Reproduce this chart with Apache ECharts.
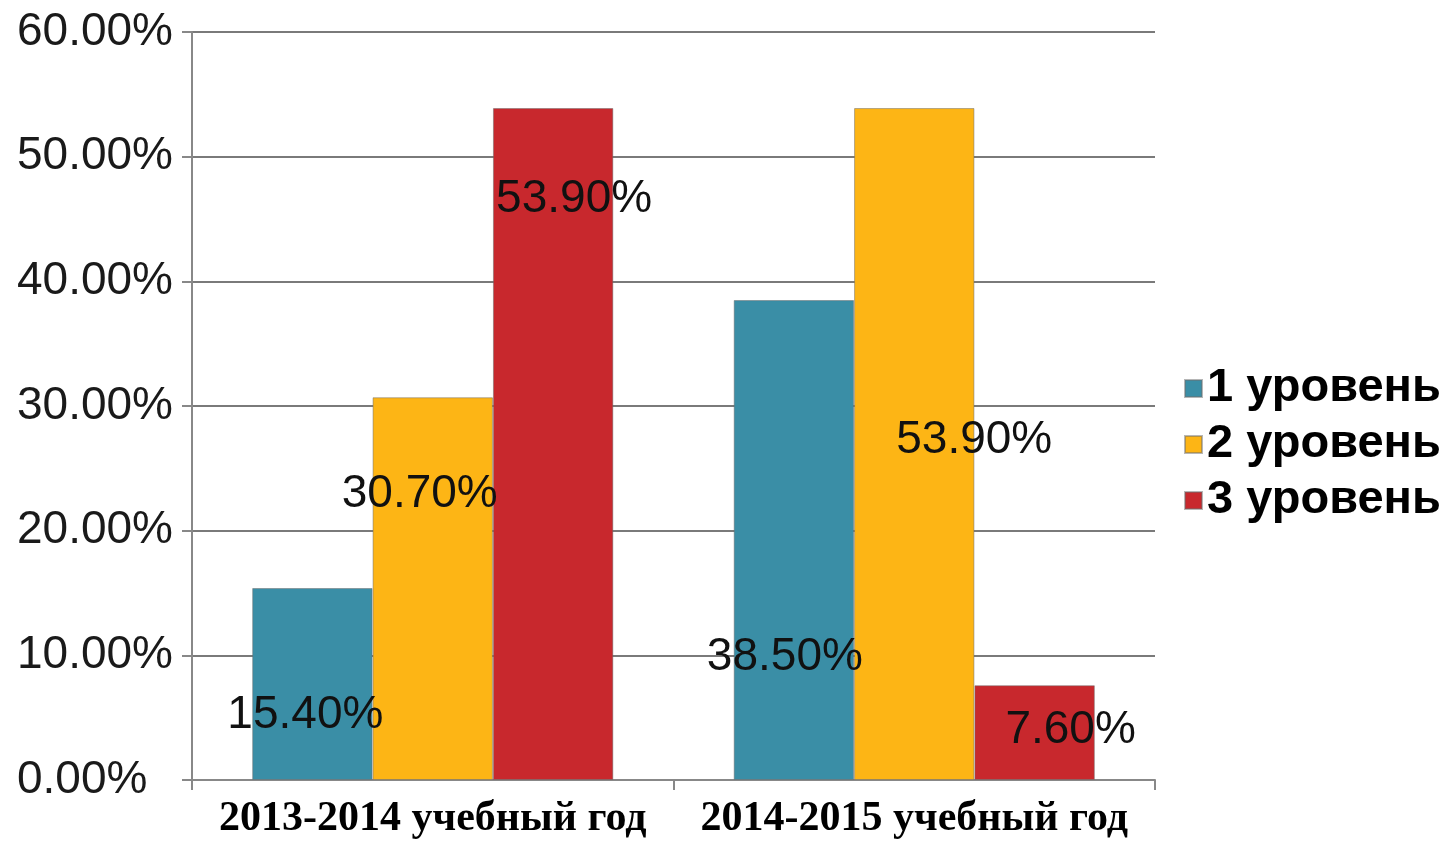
<!DOCTYPE html>
<html>
<head>
<meta charset="utf-8">
<title>Уровни</title>
<script src="https://cdn.jsdelivr.net/npm/echarts@6/dist/echarts.min.js"></script>
<style>
  html, body { margin: 0; padding: 0; background: #fff; }
  #chart { width: 1450px; height: 842px; }
</style>
</head>
<body>
<div id="chart"></div>
<script>
// данные
const categories = ['2013-2014 учебный год', '2014-2015 учебный год'];
const seriesNames = ['1 уровень', '2 уровень', '3 уровень'];
const level1 = [15.4, 38.5];
const level2 = [30.7, 53.9];
const level3 = [53.9, 7.6];
const yTicks = [0, 10, 20, 30, 40, 50, 60];

// оформление
const colors = ['#3a8ea6', '#fdb515', '#c8282d'];
// сдвиг подписей от центра столбца (как на исходной картинке)
const labelOffsets = [
  [[-7, 31], [-9, 117]],
  [[-13, -94], [60, -4]],
  [[21, -245], [36, -2]]
];

const fmt = (v) => Number(v).toFixed(2) + '%';

const chart = echarts.init(document.getElementById('chart'));

const buildSeries = () => {
  return [level1, level2, level3].map((values, s) => ({
    name: seriesNames[s],
    type: 'bar',
    barGap: 0,
    barCategoryGap: '25%',
    itemStyle: {
      color: colors[s],
      borderColor: 'rgba(110,110,110,0.5)',
      borderWidth: 1
    },
    label: {
      show: true,
      position: 'inside',
      formatter: (p) => fmt(p.value),
      fontFamily: 'Liberation Sans',
      fontSize: 46,
      color: '#111'
    },
    data: values.map((v, i) => ({
      value: v,
      label: { offset: labelOffsets[s][i] }
    }))
  }));
};

chart.setOption({
  animation: false,
  backgroundColor: '#fff',
  grid: { left: 192, right: 295, top: 32, bottom: 62 },
  legend: {
    orient: 'vertical',
    left: 1179,
    top: 360,
    icon: 'rect',
    itemWidth: 17,
    itemHeight: 17,
    itemGap: 9,
    data: seriesNames,
    textStyle: {
      fontFamily: 'Liberation Sans',
      fontWeight: 'bold',
      fontSize: 47,
      lineHeight: 47,
      color: '#000'
    }
  },
  xAxis: {
    type: 'category',
    data: categories,
    axisLine: { lineStyle: { color: '#888', width: 2 } },
    axisTick: { show: true, length: 10, lineStyle: { color: '#888', width: 2 } },
    axisLabel: {
      interval: 0,
      margin: 18,
      fontFamily: 'Liberation Serif',
      fontWeight: 'bold',
      fontSize: 42,
      color: '#000'
    }
  },
  yAxis: {
    type: 'value',
    min: yTicks[0],
    max: yTicks[yTicks.length - 1],
    interval: 10,
    axisLine: { show: true, lineStyle: { color: '#888', width: 2 } },
    axisTick: { show: true, length: 10, lineStyle: { color: '#888', width: 2 } },
    splitLine: { lineStyle: { color: '#7a7a7a', width: 2 } },
    axisLabel: {
      formatter: fmt,
      align: 'left',
      margin: 175,
      fontFamily: 'Liberation Sans',
      fontSize: 46,
      color: '#1a1a1a'
    }
  },
  series: buildSeries()
});
</script>
</body>
</html>
